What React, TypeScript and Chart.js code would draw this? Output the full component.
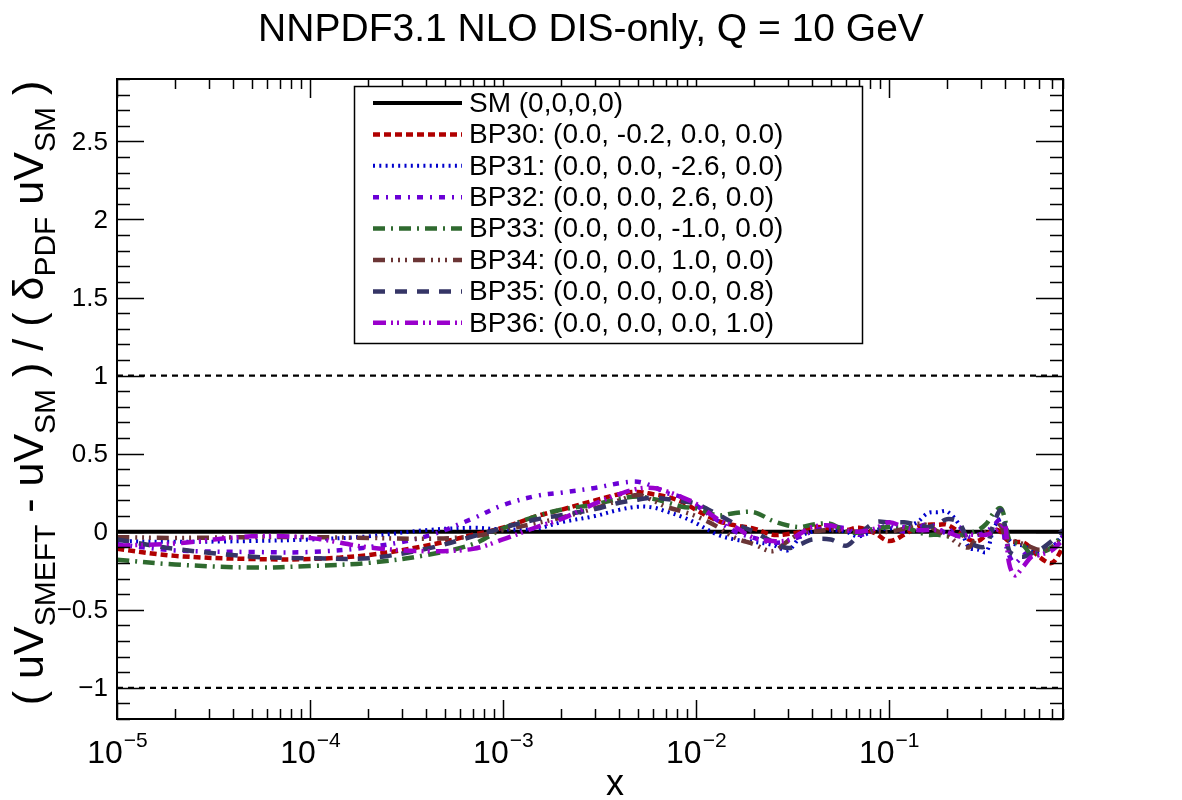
import React, { useEffect, useRef } from "react";
import { Chart, registerables } from "chart.js";

Chart.register(...registerables);

// ---------------- data ----------------
const chartTitle = "NNPDF3.1 NLO DIS-only, Q = 10 GeV";
const xAxisTitle = "x";

const xValues = [
  1e-5, 2e-5, 5e-5, 1e-4, 2e-4, 4e-4, 7e-4, 1e-3, 1.5e-3, 2e-3,
  3e-3, 4e-3, 5e-3, 6e-3, 7e-3, 8.5e-3, 1e-2, 1.3e-2, 1.6e-2, 2e-2,
  2.5e-2, 3e-2, 3.5e-2, 4e-2, 5e-2, 6e-2, 7e-2, 8.5e-2, 0.1, 0.12,
  0.14, 0.16, 0.18, 0.2, 0.23, 0.26, 0.29, 0.32, 0.35, 0.38,
  0.4, 0.42, 0.45, 0.5, 0.55, 0.6, 0.7, 0.8,
];

const smX = [1e-5, 0.8];
const smValues = [0, 0];
const refX = [1e-5, 0.8];
const refUpper = [1, 1];
const refLower = [-1, -1];

const bp30 = [
  -0.11, -0.155, -0.175, -0.175, -0.15, -0.09, -0.02, 0.025, 0.1, 0.14,
  0.2, 0.24, 0.255, 0.24, 0.225, 0.19, 0.14, 0.07, 0.04, 0.02,
  -0.02, -0.015, 0.0, 0.03, 0.02, 0.01, 0.025, -0.01, -0.06, -0.02,
  0.03, 0.045, 0.045, 0.045, 0.0, -0.05, -0.06, -0.02, 0.015, 0.0,
  -0.04, -0.06, -0.065, -0.07, -0.11, -0.16, -0.2, -0.1,
];
const bp31 = [
  -0.06, -0.065, -0.06, -0.05, -0.03, 0.01, 0.025, 0.015, 0.02, 0.06,
  0.1, 0.14, 0.16, 0.155, 0.13, 0.095, 0.055, -0.02, -0.05, -0.065,
  -0.085, -0.12, -0.03, 0.0, 0.01, 0.0, -0.03, 0.01, 0.02, 0.03,
  0.06, 0.12, 0.125, 0.13, 0.05, -0.1, -0.115, -0.13, 0.02, 0.08,
  0.05, -0.05, -0.08, -0.09, -0.12, -0.135, -0.1, -0.02,
];
const bp32 = [
  -0.08, -0.12, -0.13, -0.13, -0.1, -0.03, 0.085, 0.17, 0.23, 0.25,
  0.28, 0.31, 0.32, 0.29, 0.25, 0.22, 0.17, 0.07, 0.0, -0.04,
  -0.07, -0.06, -0.03, 0.0, 0.03, 0.02, -0.02, 0.01, 0.04, 0.0,
  0.02, 0.05, 0.02, -0.01, 0.03, -0.03, -0.02, 0.0, 0.04, 0.08,
  -0.05, -0.15, -0.2, -0.15, -0.12, -0.13, -0.1, -0.03,
];
const bp33 = [
  -0.18, -0.21, -0.23, -0.22, -0.2, -0.15, -0.08, 0.02, 0.1, 0.14,
  0.175, 0.21, 0.225, 0.21, 0.19, 0.16, 0.15, 0.105, 0.12, 0.125,
  0.07, 0.04, 0.03, 0.045, 0.05, 0.0, -0.005, 0.02, 0.03, 0.03,
  0.0, -0.02, -0.02, -0.03, -0.025, -0.01, 0.01, 0.05, 0.12, 0.15,
  0.08, -0.05, -0.07, -0.09, -0.15, -0.14, -0.1, -0.01,
];
const bp34 = [
  -0.035, -0.04, -0.035, -0.035, -0.04, -0.045, -0.03, 0.01, 0.055, 0.09,
  0.15, 0.2, 0.235, 0.2, 0.16, 0.13, 0.1, 0.03, -0.04, -0.08,
  -0.125, -0.06, -0.01, 0.0, 0.01, 0.0, 0.0, 0.0, 0.0, 0.02,
  0.05, 0.04, 0.0, -0.02, -0.08, -0.1, -0.03, 0.0, 0.02, 0.04,
  -0.03, -0.05, -0.06, -0.08, -0.1, -0.115, -0.1, -0.04,
];
const bp35 = [
  -0.05, -0.11, -0.16, -0.17, -0.17, -0.11, -0.03, 0.025, 0.08, 0.105,
  0.145, 0.185, 0.205, 0.22, 0.21, 0.195, 0.18, 0.11, 0.05, 0.0,
  -0.065, -0.105, -0.08, -0.05, -0.05, -0.09, -0.02, 0.06, 0.06, 0.06,
  0.045, 0.03, 0.05, 0.08, 0.06, -0.06, -0.095, -0.09, 0.05, 0.14,
  0.04, -0.12, -0.15, -0.16, -0.14, -0.12, -0.06, 0.01,
];
const bp36 = [
  -0.09, -0.075, -0.03, -0.04, -0.1, -0.125, -0.11, -0.05, 0.03, 0.08,
  0.18, 0.24, 0.275, 0.28, 0.26, 0.22, 0.18, 0.08, 0.03, -0.04,
  -0.06, -0.055, -0.01, 0.03, 0.04, 0.01, 0.0, 0.02, 0.06, 0.03,
  0.01, 0.01, 0.01, 0.0, -0.03, -0.02, -0.02, -0.02, 0.0, 0.03,
  0.05, -0.2, -0.28, -0.22, -0.16, -0.15, -0.12, -0.05,
];

const legendLabels = [
  "SM (0,0,0,0)",
  "BP30: (0.0, -0.2, 0.0, 0.0)",
  "BP31: (0.0, 0.0, -2.6, 0.0)",
  "BP32: (0.0, 0.0, 2.6, 0.0)",
  "BP33: (0.0, 0.0, -1.0, 0.0)",
  "BP34: (0.0, 0.0, 1.0, 0.0)",
  "BP35: (0.0, 0.0, 0.0, 0.8)",
  "BP36: (0.0, 0.0, 0.0, 1.0)",
];

const xMajorExponents = [-5, -4, -3, -2, -1];
const yMajorTicks = [-1, -0.5, 0, 0.5, 1, 1.5, 2, 2.5];
const yTickLabels = ["\u22121", "\u22120.5", "0", "0.5", "1", "1.5", "2", "2.5"];

// ---------------- styles ----------------
const FONT = '"Liberation Sans", Arial, Helvetica, sans-serif';
const seriesStyles = [
  { color: "#000000", dash: [] as number[], width: 4 },
  { color: "#b00000", dash: [7, 4], width: 4.5 },
  { color: "#0000cc", dash: [2, 4.3], width: 4 },
  { color: "#6a00d6", dash: [6, 7, 2, 7], width: 4.5 },
  { color: "#2f6a2f", dash: [12, 6, 2, 6], width: 4.5 },
  { color: "#6b3535", dash: [12, 6, 2, 5, 2, 5, 2, 6], width: 4.5 },
  { color: "#353566", dash: [12, 10], width: 4.5 },
  { color: "#9a00cc", dash: [13, 5, 2, 4, 2, 6], width: 4.5 },
];

const toPoints = (xs: number[], ys: number[]) => xs.map((x, i) => ({ x, y: ys[i] }));

function drawRich(
  ctx: CanvasRenderingContext2D,
  parts: { t: string; sub?: boolean }[],
  cx: number,
  baseline: number,
  mainSize: number,
  subSize: number,
  subShift: number
) {
  let total = 0;
  const widths = parts.map((p) => {
    ctx.font = `${p.sub ? subSize : mainSize}px ${FONT}`;
    const w = ctx.measureText(p.t).width;
    total += w;
    return w;
  });
  let x = cx - total / 2;
  ctx.textAlign = "left";
  ctx.textBaseline = "alphabetic";
  parts.forEach((p, i) => {
    ctx.font = `${p.sub ? subSize : mainSize}px ${FONT}`;
    ctx.fillText(p.t, x, p.sub ? baseline + subShift : baseline);
    x += widths[i];
  });
}

const rootDecor = {
  id: "rootDecor",
  afterDraw(chart: any) {
    const ctx: CanvasRenderingContext2D = chart.ctx;
    const { left, right, top, bottom } = chart.chartArea;
    const xs = chart.scales.x;
    const ys = chart.scales.y;
    ctx.save();
    ctx.fillStyle = "#000";
    ctx.strokeStyle = "#000";
    ctx.setLineDash([]);

    // frame
    ctx.lineWidth = 2;
    ctx.strokeRect(left, top, right - left, bottom - top);

    // x ticks (log)
    ctx.lineWidth = 1.5;
    xMajorExponents.forEach((e) => {
      for (let m = 1; m <= 9; m++) {
        const v = m * Math.pow(10, e);
        if (v > xs.max * 1.0001) break;
        const px = Math.round(xs.getPixelForValue(v)) + 0.5;
        const len = m === 1 ? 19 : 10;
        ctx.beginPath();
        ctx.moveTo(px, bottom);
        ctx.lineTo(px, bottom - len);
        ctx.moveTo(px, top);
        ctx.lineTo(px, top + len);
        ctx.stroke();
      }
    });
    // y ticks
    for (let k = -12; k <= 29; k++) {
      const v = k / 10;
      const py = Math.round(ys.getPixelForValue(v)) + 0.5;
      const len = k % 5 === 0 ? 27 : 13;
      ctx.beginPath();
      ctx.moveTo(left, py);
      ctx.lineTo(left + len, py);
      ctx.moveTo(right, py);
      ctx.lineTo(right - len, py);
      ctx.stroke();
    }

    // y tick labels
    ctx.font = `26px ${FONT}`;
    ctx.textAlign = "right";
    ctx.textBaseline = "middle";
    yMajorTicks.forEach((v, i) => {
      ctx.fillText(yTickLabels[i], 108, ys.getPixelForValue(v) + 1);
    });

    // x tick labels 10^n
    xMajorExponents.forEach((e) => {
      const px = xs.getPixelForValue(Math.pow(10, e));
      ctx.font = `32px ${FONT}`;
      const w1 = ctx.measureText("10").width;
      ctx.font = `21px ${FONT}`;
      const exp = "\u2212" + Math.abs(e);
      const w2 = ctx.measureText(exp).width;
      const x0 = px - (w1 + w2) / 2;
      ctx.textAlign = "left";
      ctx.textBaseline = "alphabetic";
      ctx.font = `32px ${FONT}`;
      ctx.fillText("10", x0, 763);
      ctx.font = `21px ${FONT}`;
      ctx.fillText(exp, x0 + w1 + 1, 747);
    });

    // axis titles
    ctx.font = `36px ${FONT}`;
    ctx.textAlign = "center";
    ctx.textBaseline = "alphabetic";
    ctx.fillText(xAxisTitle, 615, 795);

    ctx.save();
    ctx.translate(43, 393);
    ctx.rotate(-Math.PI / 2);
    drawRich(
      ctx,
      [
        { t: "( uV" },
        { t: "SMEFT", sub: true },
        { t: " - uV" },
        { t: "SM", sub: true },
        { t: " ) / ( \u03b4" },
        { t: "PDF", sub: true },
        { t: " uV" },
        { t: "SM", sub: true },
        { t: " )" },
      ],
      0,
      0,
      43,
      30,
      12
    );
    ctx.restore();

    // title
    ctx.font = `39px ${FONT}`;
    ctx.textAlign = "center";
    ctx.fillText(chartTitle, 591, 41);

    // legend
    const lx = 354, ly = 86, lw = 508, lh = 257;
    ctx.fillStyle = "#fff";
    ctx.fillRect(lx, ly, lw, lh);
    ctx.lineWidth = 1.5;
    ctx.strokeStyle = "#000";
    ctx.strokeRect(lx + 0.5, ly + 0.5, lw, lh);
    legendLabels.forEach((label, i) => {
      const st = seriesStyles[i];
      const y = 103 + i * 31.4;
      ctx.save();
      ctx.strokeStyle = st.color;
      ctx.lineWidth = st.width;
      ctx.setLineDash(st.dash);
      ctx.lineCap = "butt";
      ctx.beginPath();
      ctx.moveTo(373, y);
      ctx.lineTo(462, y);
      ctx.stroke();
      ctx.restore();
      ctx.fillStyle = "#000";
      ctx.font = `28px ${FONT}`;
      ctx.textAlign = "left";
      ctx.textBaseline = "middle";
      ctx.fillText(label, 469, y + 1);
    });
    ctx.restore();
  },
};

export default function App() {
  const canvasRef = useRef<HTMLCanvasElement | null>(null);

  useEffect(() => {
    const canvas = canvasRef.current;
    if (!canvas) return;
    const seriesValues = [smValues, bp30, bp31, bp32, bp33, bp34, bp35, bp36];
    const datasets: any[] = seriesValues.map((vals, i) => ({
      label: legendLabels[i],
      data: i === 0 ? toPoints(smX, vals) : toPoints(xValues, vals),
      borderColor: seriesStyles[i].color,
      borderWidth: seriesStyles[i].width,
      borderDash: seriesStyles[i].dash,
      borderCapStyle: "butt",
      pointRadius: 0,
      fill: false,
      tension: i === 0 ? 0 : 0.35,
      order: i === 0 ? 10 : 9 - i,
    }));
    datasets.push(
      {
        label: "ref+1",
        data: toPoints(refX, refUpper),
        borderColor: "#000",
        borderWidth: 2.2,
        borderDash: [6, 5],
        pointRadius: 0,
        tension: 0,
        order: 20,
      },
      {
        label: "ref-1",
        data: toPoints(refX, refLower),
        borderColor: "#000",
        borderWidth: 2.2,
        borderDash: [6, 5],
        pointRadius: 0,
        tension: 0,
        order: 20,
      }
    );

    const chart = new Chart(canvas, {
      type: "line",
      data: { datasets },
      options: {
        animation: false,
        responsive: false,
        devicePixelRatio: 1,
        layout: { padding: { left: 117, right: 119, top: 79, bottom: 81 } },
        plugins: {
          legend: { display: false },
          tooltip: { enabled: false },
          title: { display: false },
        },
        scales: {
          x: { type: "logarithmic", min: 1e-5, max: 0.8, display: false },
          y: { type: "linear", min: -1.2, max: 2.9, display: false },
        },
      },
      plugins: [rootDecor],
    } as any);
    return () => chart.destroy();
  }, []);

  return (
    <div style={{ position: "fixed", left: 0, top: 0, width: 1182, height: 800, background: "#fff" }}>
      <canvas ref={canvasRef} width={1182} height={800} style={{ display: "block" }} />
    </div>
  );
}
